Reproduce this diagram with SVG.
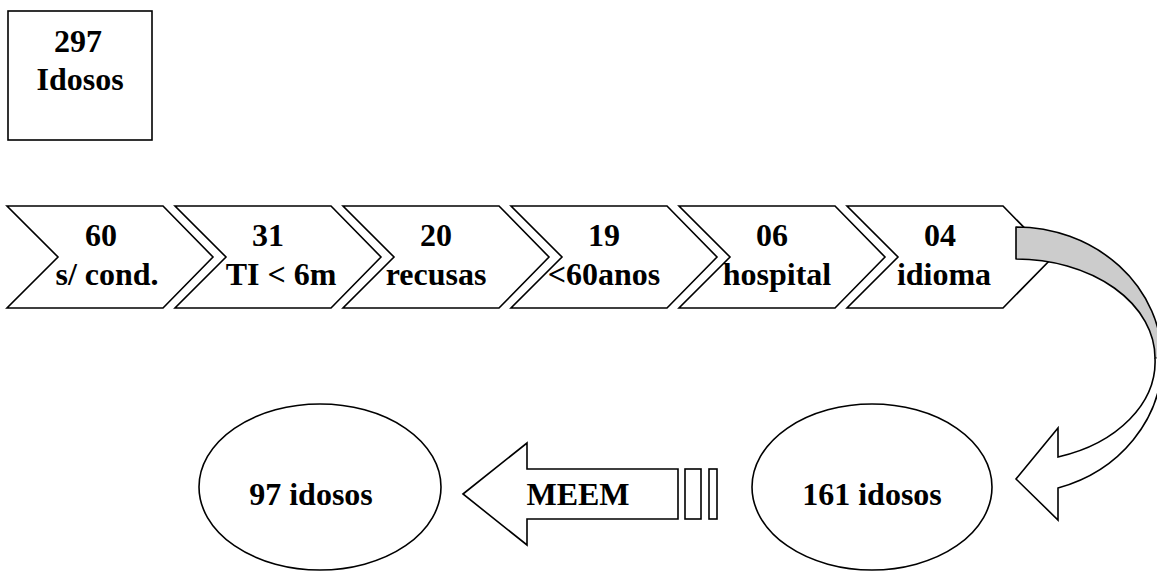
<svg xmlns="http://www.w3.org/2000/svg" width="1157" height="572" viewBox="0 0 1157 572">
<style>
.s{fill:#fff;stroke:#000;stroke-width:1.6}
.t{font-family:"Liberation Serif","Times New Roman",serif;font-weight:bold;font-size:32px;text-anchor:middle;fill:#000}
</style>
<defs>
<path id="chev" d="M0,206 L156,206 L206,257 L156,308 L0,308 L51,257 Z"/>
</defs>
<rect width="1157" height="572" fill="#fff"/>
<g id="box297">
<rect x="8" y="11" width="144" height="129" class="s" stroke-width="2"/>
<text class="t" x="78" y="52">297</text>
<text class="t" x="80" y="90">Idosos</text>
</g>
<g id="c1"><use href="#chev" x="7" class="s"/><text class="t" x="101" y="246">60</text><text class="t" x="107" y="285">s/ cond.</text></g>
<g id="c2"><use href="#chev" x="175" class="s"/><text class="t" x="268" y="246">31</text><text class="t" x="281" y="285">TI &lt; 6m</text></g>
<g id="c3"><use href="#chev" x="343" class="s"/><text class="t" x="436" y="246">20</text><text class="t" x="436" y="285">recusas</text></g>
<g id="c4"><use href="#chev" x="511" class="s"/><text class="t" x="604" y="246">19</text><text class="t" x="604" y="285">&lt;60anos</text></g>
<g id="c5"><use href="#chev" x="679" class="s"/><text class="t" x="772" y="246">06</text><text class="t" x="777" y="285">hospital</text></g>
<g id="c6"><use href="#chev" x="847" class="s"/><text class="t" x="940" y="246">04</text><text class="t" x="944" y="285">idioma</text></g>
<g id="e161"><ellipse cx="872" cy="487" rx="120" ry="83" class="s" stroke-width="2"/><text class="t" x="872" y="505">161 idosos</text></g>
<g id="e97"><ellipse cx="320" cy="487" rx="121" ry="83" class="s" stroke-width="2"/><text class="t" x="311" y="505">97 idosos</text></g>
<g id="connectors">
<path d="M1016,227 A146,133 0 0 1 1162,360 L1155,358 A139,99 0 0 0 1016,259 Z" fill="#cccccc" stroke="#000" stroke-width="1.6" stroke-linejoin="round"/>
<path d="M1162,360 A146,133 0 0 1 1058,488 L1058,520 L1016,479 L1058,428 L1058,457 A139,100 0 0 0 1155,358" fill="#fff" stroke="#000" stroke-width="1.6" stroke-linejoin="miter"/>
<g id="meem">
<path d="M463,494 L527,443 L527,469 L678,469 L678,519 L527,519 L527,545 Z" class="s"/>
<rect x="685" y="469" width="16" height="50" class="s"/>
<rect x="709" y="469" width="8" height="50" class="s"/>
<text class="t" x="578" y="505">MEEM</text>
</g>
</g>
</svg>
